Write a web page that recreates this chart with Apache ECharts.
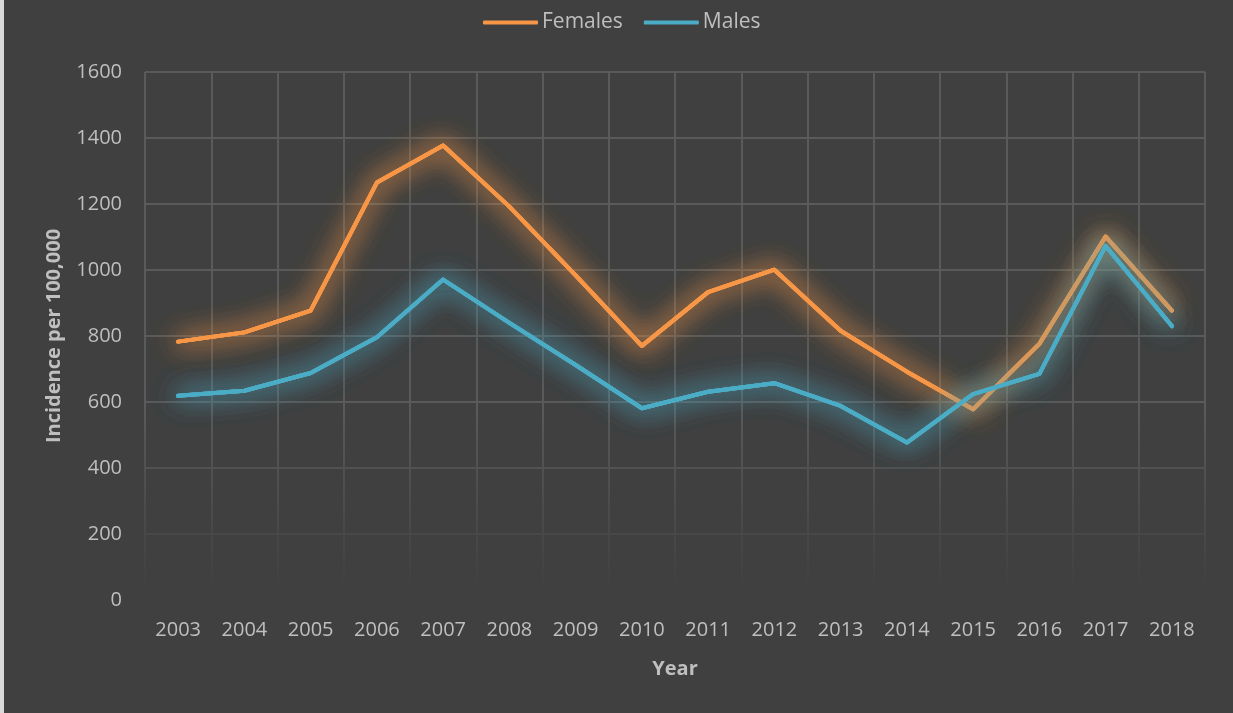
<!DOCTYPE html>
<html>
<head>
<meta charset="utf-8">
<script src="https://cdn.jsdelivr.net/npm/echarts@6/dist/echarts.min.js"></script>
<style>
  html, body { margin: 0; padding: 0; background: #404040; }
  #chart { width: 1233px; height: 713px; }
</style>
</head>
<body>
<div id="chart"></div>
<script>
// Incidence per 100,000 by year
const years = ['2003','2004','2005','2006','2007','2008','2009','2010','2011','2012','2013','2014','2015','2016','2017','2018'];
const females = [783, 811, 877, 1265, 1377, 1192, 984, 770, 933, 1001, 816, 692, 578, 776, 1101, 877];
const males   = [619, 634, 688, 796, 971, 840, 712, 581, 631, 657, 588, 477, 624, 685, 1073, 830];
const yTicks = { min: 0, max: 1600, interval: 200 };

const FONT = '"Open Sans", "Liberation Sans", sans-serif';
const TEXT = '#bfbfbf';
const BG = '#404040';
const ORANGE = '#f79646';
const AQUA = '#4bacc6';

const chart = echarts.init(document.getElementById('chart'), null, { renderer: 'canvas' });

// soft halo: a blurred shadow under the line, drawn in passes to build up intensity
function glowSeries(name, data, color, rgb, pass) {
  return {
    name: name + ' glow ' + pass,
    type: 'line',
    data: data,
    symbol: 'none',
    silent: true,
    lineStyle: {
      color: color,
      width: 4,
      cap: 'round',
      join: 'round',
      shadowColor: 'rgba(' + rgb + ',0.85)',
      shadowBlur: 26
    },
    emphasis: { disabled: true },
    tooltip: { show: false }
  };
}

function lineSeries(name, data, color) {
  return {
    name: name,
    type: 'line',
    data: data,
    symbol: 'none',
    smooth: false,
    lineStyle: { color: color, width: 4, cap: 'round', join: 'round' },
    itemStyle: { color: color },
    emphasis: { disabled: true }
  };
}

function withGlow(name, data, color, rgb) {
  return [
    glowSeries(name, data, color, rgb, 1),
    glowSeries(name, data, color, rgb, 2),
    glowSeries(name, data, color, rgb, 3),
    lineSeries(name, data, color)
  ];
}

chart.setOption({
  backgroundColor: BG,
  animation: false,
  textStyle: { fontFamily: FONT },
  legend: {
    top: 7,
    left: 478,
    itemWidth: 55,
    itemHeight: 4,
    itemGap: 21,
    icon: 'roundRect',
    textStyle: { color: TEXT, fontSize: 21, fontFamily: FONT, padding: [0, 0, 0, -1] },
    data: ['Females', 'Males']
  },
  grid: { left: 145, right: 28, top: 72, bottom: 113, containLabel: false },
  xAxis: {
    type: 'category',
    data: years,
    boundaryGap: true,
    name: 'Year',
    nameLocation: 'middle',
    nameGap: 59,
    nameTextStyle: { color: TEXT, fontSize: 20, fontWeight: 'bold', fontFamily: FONT },
    axisLine: { show: false },
    axisTick: { show: false },
    axisLabel: { color: TEXT, fontSize: 20, margin: 20, fontFamily: FONT, interval: 0 },
    splitLine: { show: true, interval: 0, lineStyle: { color: '#5a5a5a', width: 2 } }
  },
  yAxis: {
    type: 'value',
    min: yTicks.min,
    max: yTicks.max,
    interval: yTicks.interval,
    name: 'Incidence per 100,000',
    nameLocation: 'middle',
    nameGap: 81,
    nameRotate: 90,
    nameTextStyle: { color: TEXT, fontSize: 20, fontWeight: 'bold', fontFamily: FONT },
    axisLine: { show: false },
    axisTick: { show: false },
    axisLabel: { color: TEXT, fontSize: 20, margin: 23, fontFamily: FONT, formatter: (v) => String(v) },
    splitLine: { show: true, lineStyle: { color: '#5a5a5a', width: 2 } }
  },
  graphic: [
    {
      // gridlines fade out toward the bottom of the plot
      type: 'rect',
      z: 1,
      silent: true,
      shape: { x: 138, y: 405, width: 1075, height: 205 },
      style: {
        fill: new echarts.graphic.LinearGradient(0, 0, 0, 1, [
          { offset: 0, color: 'rgba(64,64,64,0)' },
          { offset: 0.9, color: 'rgba(64,64,64,1)' },
          { offset: 1, color: 'rgba(64,64,64,1)' }
        ])
      }
    },
    {
      // light frame edge on the left
      type: 'rect',
      z: 5,
      silent: true,
      shape: { x: 0, y: 0, width: 4, height: 713 },
      style: { fill: '#d9d9d9' }
    }
  ],
  series: [].concat(
    withGlow('Females', females, ORANGE, '247,150,70'),
    withGlow('Males', males, AQUA, '75,172,198')
  )
});
</script>
</body>
</html>
